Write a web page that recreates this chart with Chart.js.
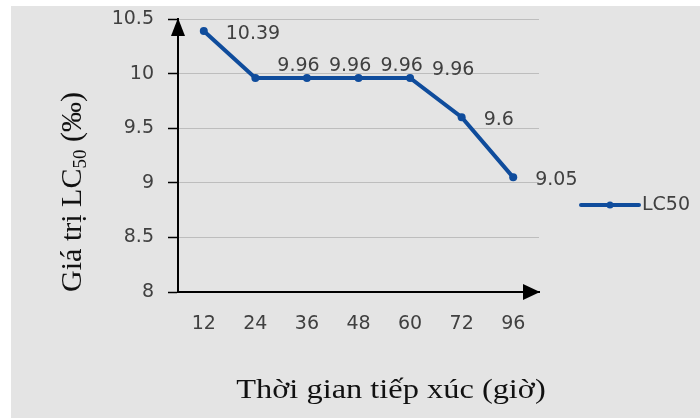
<!DOCTYPE html>
<html>
<head>
<meta charset="utf-8">
<script src="https://cdn.jsdelivr.net/npm/chart.js@4.4.1/dist/chart.umd.min.js"></script>
<style>
  html, body { margin: 0; padding: 0; background: #ffffff; }
  #wrap { width: 700px; height: 418px; }
</style>
</head>
<body>
<div id="wrap"><canvas id="c" width="700" height="418"></canvas></div>
<script>
// Exposure time (hours) and LC50 values (‰)
const hours = ['12', '24', '36', '48', '60', '72', '96'];
const lc50 = [10.39, 9.96, 9.96, 9.96, 9.96, 9.6, 9.05];
const seriesName = 'LC50';
const yMin = 8, yMax = 10.5, yStep = 0.5;
const yTickLabels = ['8', '8.5', '9', '9.5', '10', '10.5'];

const BLUE = '#0f4c9c';
const TEXT = '#404040';
const TICK_FONT = { family: 'DejaVu Sans', size: 19 };

const panelBg = {
  id: 'panelBg',
  beforeDraw(chart) {
    const ctx = chart.ctx;
    ctx.save();
    ctx.fillStyle = '#ffffff';
    ctx.fillRect(0, 0, chart.width, chart.height);
    ctx.fillStyle = '#e4e4e4';
    ctx.fillRect(11, 6, chart.width - 11, chart.height - 6);
    ctx.restore();
  }
};

// Arrowheads on the two axes
const axisArrows = {
  id: 'axisArrows',
  afterDraw(chart) {
    const { ctx, chartArea: a } = chart;
    ctx.save();
    ctx.fillStyle = '#000000';
    ctx.beginPath();
    ctx.moveTo(a.left, a.top - 1);
    ctx.lineTo(a.left - 7, a.top + 17);
    ctx.lineTo(a.left + 7, a.top + 17);
    ctx.closePath();
    ctx.fill();
    ctx.beginPath();
    ctx.moveTo(a.right + 1, a.bottom);
    ctx.lineTo(a.right - 16, a.bottom - 8);
    ctx.lineTo(a.right - 16, a.bottom + 8);
    ctx.closePath();
    ctx.fill();
    ctx.restore();
  }
};

// Value labels to the right of each point; lifted where the line runs flat
const valueLabels = {
  id: 'valueLabels',
  afterDatasetsDraw(chart) {
    const ctx = chart.ctx;
    const meta = chart.getDatasetMeta(0);
    const data = chart.data.datasets[0].data;
    ctx.save();
    ctx.font = `${TICK_FONT.size}px "${TICK_FONT.family}"`;
    ctx.fillStyle = TEXT;
    ctx.textAlign = 'left';
    ctx.textBaseline = 'middle';
    meta.data.forEach((pt, i) => {
      const flatNext = i + 1 < data.length && data[i + 1] === data[i];
      const flatPrev = i > 0 && data[i - 1] === data[i];
      let dy = 3;
      if (flatNext) dy = -12;
      else if (flatPrev) dy = -8;
      ctx.fillText(String(data[i]), pt.x + 22, pt.y + dy);
    });
    ctx.restore();
  }
};

// Axis titles (serif, with subscript) and the legend entry
const titlesAndLegend = {
  id: 'titlesAndLegend',
  afterDraw(chart) {
    const ctx = chart.ctx;
    ctx.save();
    ctx.fillStyle = '#111111';
    // x title, slightly widened
    ctx.font = '27px "Liberation Serif"';
    ctx.textAlign = 'center';
    ctx.textBaseline = 'alphabetic';
    ctx.translate(391, 398);
    ctx.scale(1.2, 1);
    ctx.fillText('Thời gian tiếp xúc (giờ)', 0, 0);
    ctx.restore();

    // y title, rotated, "LC" with subscript "50"
    ctx.save();
    ctx.fillStyle = '#111111';
    const big = '30px "Liberation Serif"';
    const small = '19px "Liberation Serif"';
    const p1 = 'Giá trị LC', p2 = '50', p3 = ' (‰)';
    ctx.font = big; const w1 = ctx.measureText(p1).width, w3 = ctx.measureText(p3).width;
    ctx.font = small; const w2 = ctx.measureText(p2).width;
    const total = w1 + w2 + w3;
    ctx.translate(81, 192);
    ctx.rotate(-Math.PI / 2);
    ctx.textAlign = 'left';
    ctx.textBaseline = 'alphabetic';
    let x = -total / 2;
    ctx.font = big; ctx.fillText(p1, x, 0); x += w1;
    ctx.font = small; ctx.fillText(p2, x, 5); x += w2;
    ctx.font = big; ctx.fillText(p3, x, 0);
    ctx.restore();

    // legend
    ctx.save();
    const ly = 205;
    ctx.strokeStyle = BLUE;
    ctx.lineWidth = 4;
    ctx.lineCap = 'round';
    ctx.beginPath();
    ctx.moveTo(581, ly);
    ctx.lineTo(639, ly);
    ctx.stroke();
    ctx.fillStyle = BLUE;
    ctx.beginPath();
    ctx.arc(610, ly, 3.5, 0, Math.PI * 2);
    ctx.fill();
    ctx.fillStyle = TEXT;
    ctx.font = `${TICK_FONT.size}px "${TICK_FONT.family}"`;
    ctx.textAlign = 'left';
    ctx.textBaseline = 'middle';
    ctx.fillText(chart.data.datasets[0].label, 642, ly);
    ctx.restore();
  }
};

new Chart(document.getElementById('c'), {
  type: 'line',
  data: {
    labels: hours,
    datasets: [{
      label: seriesName,
      data: lc50,
      borderColor: BLUE,
      backgroundColor: BLUE,
      borderWidth: 4,
      pointRadius: 4,
      pointHoverRadius: 4,
      pointBackgroundColor: BLUE,
      pointBorderWidth: 0,
      tension: 0
    }]
  },
  options: {
    responsive: false,
    animation: false,
    events: [],
    layout: { padding: { left: 11, right: 161, top: 19, bottom: 0 } },
    plugins: { legend: { display: false }, tooltip: { enabled: false } },
    scales: {
      x: {
        type: 'category',
        offset: true,
        grid: { display: false, drawTicks: false },
        border: { display: true, color: '#000000', width: 2 },
        ticks: { color: TEXT, font: TICK_FONT, padding: 21, maxRotation: 0 },
        afterFit(scale) { scale.height = 126; scale.paddingLeft = 0; scale.paddingRight = 0; }
      },
      y: {
        min: yMin,
        max: yMax,
        grid: { color: '#bdbdbd', lineWidth: 1, tickLength: 10, tickColor: '#000000', tickWidth: 1.5 },
        border: { display: true, color: '#000000', width: 2 },
        ticks: {
          stepSize: yStep, color: TEXT, font: TICK_FONT, padding: 14,
          callback: (v, i) => yTickLabels[i]
        },
        afterFit(scale) { scale.width = 167; scale.paddingTop = 0; scale.paddingBottom = 0; }
      }
    }
  },
  plugins: [panelBg, axisArrows, valueLabels, titlesAndLegend]
});
</script>
</body>
</html>
